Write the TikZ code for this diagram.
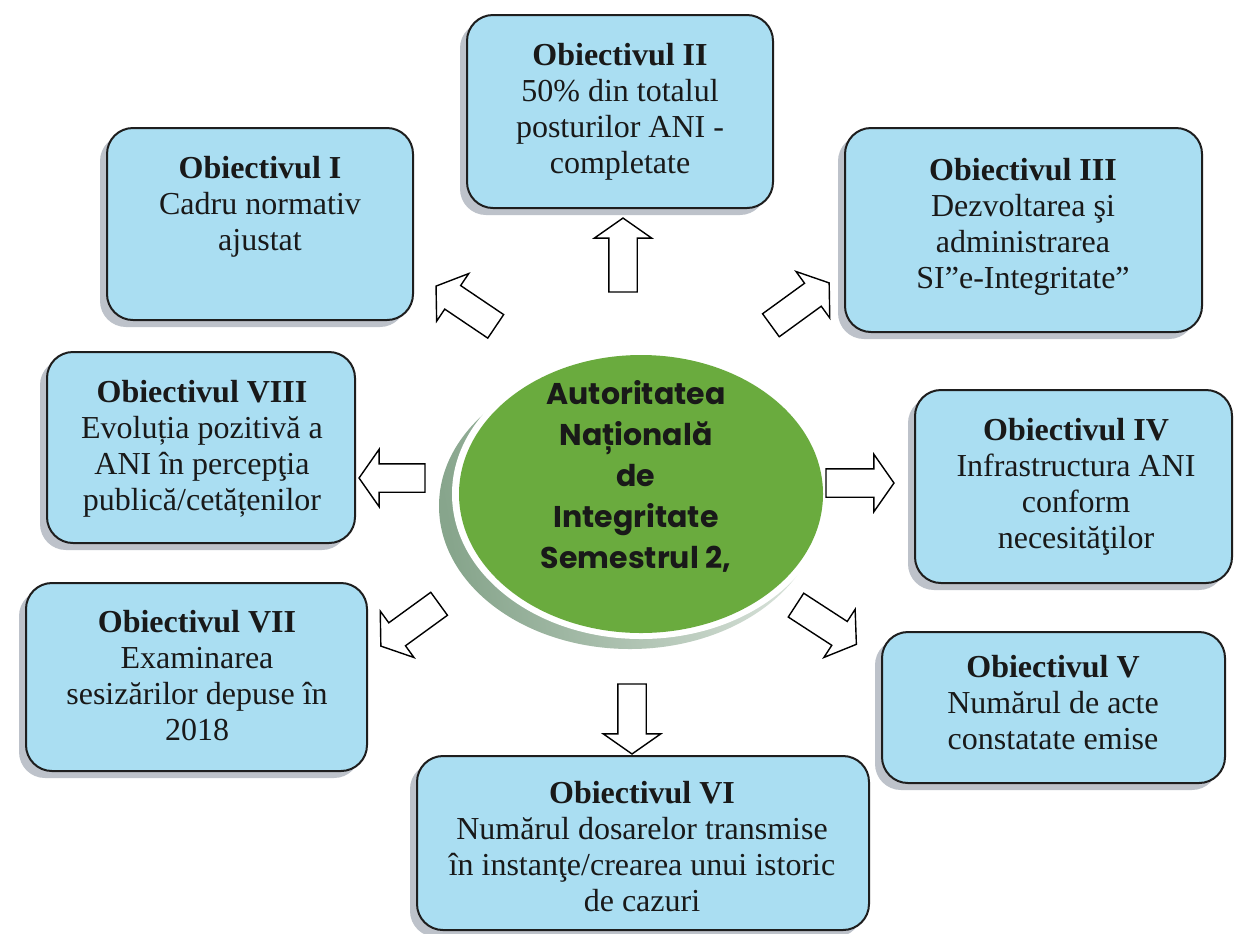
\documentclass[tikz,border=0pt]{standalone}
\usepackage{fontspec}
\setmainfont{Liberation Serif}
\newfontfamily\gothic{Poppins}
\usetikzlibrary{shapes.arrows,shapes.geometric,shadows}
\definecolor{boxblue}{RGB}{170,222,242}
\definecolor{boxline}{RGB}{30,30,30}
\definecolor{shadowgray}{RGB}{125,135,150}
\definecolor{anigreen}{RGB}{106,171,62}
\definecolor{shadowg}{RGB}{135,165,140}
\definecolor{txt}{RGB}{25,25,25}
\begin{document}
\begin{tikzpicture}[x=0.5pt,y=-0.5pt,
  objbox/.style={draw=boxline, line width=1pt, fill=boxblue, rounded corners=13pt,
    drop shadow={shadow xshift=-3.5pt, shadow yshift=-3.5pt, fill=shadowgray, opacity=0.5},
    inner sep=0pt},
  objtext/.style={anchor=north, align=center, inner sep=0pt, text=txt,
    font={\fontsize{16pt}{18pt}\selectfont}},
  blockarrow/.style={single arrow, draw=black, fill=white, line width=0.7pt,
    inner xsep=0pt, inner ysep=6.75pt, single arrow head extend=7.25pt,
    single arrow tip angle=110, anchor=center},
  anitxt/.style={anchor=north, align=center, inner sep=0pt, text=txt,
    font={\gothic\bfseries\fontsize{15pt}{20.5pt}\selectfont}}]
\useasboundingbox (0,0) rectangle (1234,933);
\fill[white] (0,0) rectangle (1234,933);

% central disc with its shadow crescent
\shade[left color=shadowg, right color=shadowg!25, shading angle=100] (630,506) ellipse [x radius=191, y radius=143];
\fill[white] (641,494) ellipse [x radius=189, y radius=145];
\node[ellipse, fill=anigreen, minimum width=182pt, minimum height=139pt, inner sep=0pt] (ani) at (641,494) {};
\node[anitxt] (anitext) at (636,380) {Autoritatea\\Națională\\de\\Integritate\\Semestrul 2,};

% objective boxes
\node[objbox, minimum width=153pt, minimum height=96pt] (b1) at (260,224) {};
\node[objbox, minimum width=153pt, minimum height=96.5pt] (b2) at (620,111.5) {};
\node[objbox, minimum width=178.5pt, minimum height=102pt] (b3) at (1023.5,230) {};
\node[objbox, minimum width=158.5pt, minimum height=96.5pt] (b4) at (1073.5,486.5) {};
\node[objbox, minimum width=171.5pt, minimum height=75.5pt] (b5) at (1053.5,707.5) {};
\node[objbox, minimum width=226pt, minimum height=87pt] (b6) at (643,843) {};
\node[objbox, minimum width=170.5pt, minimum height=94pt] (b7) at (196.5,677) {};
\node[objbox, minimum width=154pt, minimum height=95.5pt] (b8) at (201,447.5) {};

\node[objtext] (t1) at (260,156) {\textbf{Obiectivul I}\\Cadru normativ\\ajustat};
\node[objtext] (t2) at (620,43) {\textbf{Obiectivul II}\\50\% din totalul\\posturilor ANI -\\completate};
\node[objtext] (t3) at (1023,158) {\textbf{Obiectivul III}\\Dezvoltarea şi\\administrarea\\SI”e-Integritate”};
\node[objtext] (t4) at (1076,418) {\textbf{Obiectivul IV}\\Infrastructura ANI\\conform\\necesităţilor};
\node[objtext] (t5) at (1053,655) {\textbf{Obiectivul V}\\Numărul de acte\\constatate emise};
\node[objtext] (t6) at (642,781) {\textbf{Obiectivul VI}\\Numărul dosarelor transmise\\în instanţe/crearea unui istoric\\de cazuri};
\node[objtext] (t7) at (197,610) {\textbf{Obiectivul VII}\\Examinarea\\sesizărilor depuse în\\2018};
\node[objtext] (t8) at (202,380) {\textbf{Obiectivul VIII}\\Evoluția pozitivă a\\ANI în percepţia\\publică/cetățenilor};

% block arrows
\node[blockarrow, minimum height=36pt, rotate=146] (a1) at (470,309) {};
\node[blockarrow, minimum height=37pt, rotate=90] (a2) at (623,260) {};
\node[blockarrow, minimum height=36pt, rotate=36] (a3) at (796,307) {};
\node[blockarrow, minimum height=34pt, rotate=0] (a4) at (855,483) {};
\node[blockarrow, minimum height=36pt, rotate=-33] (a5) at (822,622) {};
\node[blockarrow, minimum height=35pt, rotate=-90] (a6) at (632,714) {};
\node[blockarrow, minimum height=36pt, rotate=216] (a7) at (414,622) {};
\node[blockarrow, minimum height=33pt, rotate=180] (a8) at (397,478) {};
\end{tikzpicture}
\end{document}
